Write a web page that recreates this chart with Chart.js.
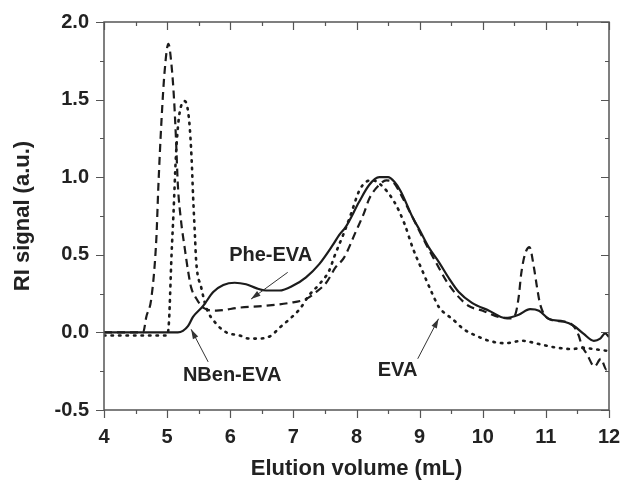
<!DOCTYPE html>
<html>
<head>
<meta charset="utf-8">
<script src="https://cdn.jsdelivr.net/npm/chart.js@4.4.1/dist/chart.umd.min.js"></script>
<style>
  html, body { margin: 0; padding: 0; background: #fff; }
  #wrap { width: 622px; height: 480px; }
</style>
</head>
<body>
<div id="wrap"><canvas id="c"></canvas></div>
<script>
// RI traces (elution volume in mL, signal in a.u.)
const nbenX = [4.0, 5.1, 5.17, 5.25, 5.33, 5.41, 5.57, 5.73, 5.89, 6.07, 6.25, 6.41, 6.57, 6.78, 6.99, 7.2, 7.41, 7.62, 7.73, 7.83, 8.04, 8.2, 8.36, 8.5, 8.6, 8.7, 8.89, 9.0, 9.15, 9.31, 9.47, 9.62, 9.83, 10.1, 10.36, 10.57, 10.75, 10.89, 11.05, 11.28, 11.44, 11.6, 11.76, 11.86, 11.94, 12.0];
const nbenY = [0, 0, 0, 0.01, 0.04, 0.10, 0.17, 0.26, 0.305, 0.32, 0.31, 0.285, 0.27, 0.27, 0.30, 0.355, 0.44, 0.56, 0.63, 0.68, 0.84, 0.95, 1.0, 1.0, 0.97, 0.91, 0.74, 0.66, 0.545, 0.45, 0.345, 0.26, 0.19, 0.14, 0.093, 0.114, 0.15, 0.14, 0.086, 0.07, 0.043, -0.01, -0.054, -0.04, -0.006, -0.03];

const pheX = [4.0, 4.62, 4.67, 4.75, 4.83, 4.86, 4.91, 4.96, 5.02, 5.07, 5.11, 5.14, 5.17, 5.22, 5.28, 5.33, 5.38, 5.46, 5.57, 5.78, 6.15, 6.52, 6.94, 7.2, 7.36, 7.52, 7.67, 7.8, 7.99, 8.12, 8.2, 8.36, 8.47, 8.6, 8.7, 8.89, 9.1, 9.3, 9.41, 9.57, 9.78, 10.0, 10.25, 10.45, 10.52, 10.57, 10.61, 10.67, 10.74, 10.81, 10.86, 10.91, 11.05, 11.28, 11.44, 11.52, 11.57, 11.65, 11.77, 11.87, 11.96, 12.0];
const pheY = [0, 0, 0.10, 0.22, 0.61, 0.93, 1.36, 1.68, 1.86, 1.72, 1.5, 1.25, 0.95, 0.72, 0.54, 0.40, 0.29, 0.22, 0.16, 0.14, 0.16, 0.17, 0.19, 0.215, 0.26, 0.32, 0.42, 0.48, 0.65, 0.77, 0.86, 0.95, 0.98, 0.96, 0.89, 0.74, 0.57, 0.42, 0.34, 0.25, 0.17, 0.14, 0.10, 0.09, 0.12, 0.23, 0.38, 0.505, 0.55, 0.42, 0.29, 0.18, 0.086, 0.07, 0.04, -0.02, -0.086, -0.14, -0.22, -0.17, -0.24, -0.24];

const evaX = [4.0, 5.0, 5.03, 5.07, 5.10, 5.14, 5.18, 5.23, 5.28, 5.35, 5.39, 5.41, 5.44, 5.46, 5.54, 5.62, 5.78, 5.94, 6.15, 6.3, 6.46, 6.65, 6.78, 6.94, 7.1, 7.25, 7.41, 7.57, 7.65, 7.8, 7.91, 8.04, 8.15, 8.25, 8.36, 8.6, 8.76, 8.89, 9.04, 9.2, 9.31, 9.41, 9.52, 9.7, 9.86, 10.1, 10.36, 10.62, 10.89, 11.15, 11.41, 11.6, 11.8, 12.0];
const evaY = [-0.02, -0.02, 0.075, 0.50, 0.76, 1.14, 1.36, 1.47, 1.49, 1.36, 1.10, 0.89, 0.63, 0.46, 0.29, 0.16, 0.055, 0.0, -0.02, -0.04, -0.04, -0.02, 0.03, 0.086, 0.15, 0.24, 0.31, 0.40, 0.49, 0.64, 0.76, 0.91, 0.97, 0.98, 0.96, 0.84, 0.70, 0.545, 0.40, 0.25, 0.16, 0.12, 0.086, 0.02, -0.015, -0.054, -0.07, -0.054, -0.075, -0.097, -0.107, -0.10, -0.11, -0.12];

const xTicks = [4, 5, 6, 7, 8, 9, 10, 11, 12];
const yTicks = [-0.5, 0.0, 0.5, 1.0, 1.5, 2.0];

// text labels with arrows, in data units
const noteText = ['Phe-EVA', 'NBen-EVA', 'EVA'];
const noteX = [6.64, 6.03, 8.65];
const noteY = [0.495, -0.28, -0.245];
const arrowFromX = [6.91, 5.65, 8.97];
const arrowFromY = [0.387, -0.19, -0.17];
const arrowToX = [6.33, 5.38, 9.30];
const arrowToY = [0.215, 0.02, 0.088];

const INK = '#1c1c1c';
const AXIS = '#555';
const FONT = '"Liberation Sans", Arial, sans-serif';

const pts = (xs, ys) => xs.map((x, i) => ({ x, y: ys[i] }));

// frame + minor ticks: out on bottom/left, in on top/right
const frame = {
  id: 'frame',
  afterDraw(chart) {
    const { ctx, chartArea: a, scales: { x, y } } = chart;
    ctx.save();
    ctx.strokeStyle = AXIS;
    ctx.lineWidth = 1.5;
    ctx.strokeRect(a.left, a.top, a.right - a.left, a.bottom - a.top);
    ctx.lineWidth = 1.2;
    ctx.beginPath();
    for (let i = 0; i < xTicks.length; i++) {
      const vals = [[xTicks[i], 8]];
      if (i < xTicks.length - 1) vals.push([(xTicks[i] + xTicks[i + 1]) / 2, 4]);
      for (const [v, len] of vals) {
        const px = Math.round(x.getPixelForValue(v)) + 0.5;
        ctx.moveTo(px, a.bottom); ctx.lineTo(px, a.bottom + len);
        ctx.moveTo(px, a.top); ctx.lineTo(px, a.top + len);
      }
    }
    for (let i = 0; i < yTicks.length; i++) {
      const vals = [[yTicks[i], 8]];
      if (i < yTicks.length - 1) vals.push([(yTicks[i] + yTicks[i + 1]) / 2, 4]);
      for (const [v, len] of vals) {
        const py = Math.round(y.getPixelForValue(v)) + 0.5;
        ctx.moveTo(a.left, py); ctx.lineTo(a.left - len, py);
        ctx.moveTo(a.right, py); ctx.lineTo(a.right - len, py);
      }
    }
    ctx.stroke();

    // annotations
    ctx.strokeStyle = '#333';
    ctx.fillStyle = '#333';
    ctx.lineWidth = 1;
    for (let i = 0; i < noteText.length; i++) {
      const x0 = x.getPixelForValue(arrowFromX[i]), y0 = y.getPixelForValue(arrowFromY[i]);
      const x1 = x.getPixelForValue(arrowToX[i]), y1 = y.getPixelForValue(arrowToY[i]);
      const ang = Math.atan2(y1 - y0, x1 - x0);
      ctx.beginPath();
      ctx.moveTo(x0, y0); ctx.lineTo(x1, y1);
      ctx.stroke();
      ctx.beginPath();
      ctx.moveTo(x1, y1);
      ctx.lineTo(x1 - 10 * Math.cos(ang - 0.3), y1 - 10 * Math.sin(ang - 0.3));
      ctx.lineTo(x1 - 10 * Math.cos(ang + 0.3), y1 - 10 * Math.sin(ang + 0.3));
      ctx.closePath();
      ctx.fill();
    }
    ctx.fillStyle = '#222';
    ctx.font = 'bold 20px ' + FONT;
    ctx.textAlign = 'center';
    ctx.textBaseline = 'middle';
    noteText.forEach((t, i) => {
      ctx.fillText(t, x.getPixelForValue(noteX[i]), y.getPixelForValue(noteY[i]));
    });
    ctx.restore();
  }
};

const line = (label, xs, ys, dash, width) => ({
  label,
  data: pts(xs, ys),
  borderColor: INK,
  borderWidth: width,
  borderDash: dash,
  borderCapStyle: dash.length && dash[0] < 3 ? 'round' : 'butt',
  pointRadius: 0,
  fill: false,
  cubicInterpolationMode: 'monotone',
});

new Chart(document.getElementById('c'), {
  type: 'line',
  data: {
    datasets: [
      line('NBen-EVA', nbenX, nbenY, [], 2.2),
      line('Phe-EVA', pheX, pheY, [8, 5], 2.2),
      line('EVA', evaX, evaY, [1.5, 6], 2.6),
    ],
  },
  plugins: [frame],
  options: {
    responsive: true,
    maintainAspectRatio: false,
    animation: false,
    layout: { padding: { top: 22, right: 13, left: 0, bottom: 0 } },
    plugins: { legend: { display: false }, tooltip: { enabled: false } },
    scales: {
      x: {
        type: 'linear',
        min: 4, max: 12,
        afterBuildTicks: s => { s.ticks = xTicks.map(v => ({ value: v })); },
        afterFit: s => { s.height = 70; s.paddingLeft = 0; s.paddingRight = 0; },
        grid: { display: false, drawTicks: false },
        border: { display: false },
        ticks: { color: '#222', padding: 15, font: { family: FONT, size: 20, weight: 'bold' } },
        title: {
          display: true, text: 'Elution volume (mL)', color: '#222',
          padding: { top: 0, bottom: 0 },
          font: { family: FONT, size: 22, weight: 'bold', lineHeight: 1.0 },
        },
      },
      y: {
        min: -0.5, max: 2.0,
        afterBuildTicks: s => { s.ticks = yTicks.map(v => ({ value: v })); },
        afterFit: s => { s.width = 104; s.paddingTop = 0; s.paddingBottom = 0; },
        grid: { display: false, drawTicks: false },
        border: { display: false },
        ticks: {
          color: '#222', padding: 15,
          font: { family: FONT, size: 20, weight: 'bold' },
          callback: v => v.toFixed(1),
        },
        title: {
          display: true, text: 'RI signal (a.u.)', color: '#222',
          padding: { top: 10, bottom: 0 },
          font: { family: FONT, size: 22, weight: 'bold' },
        },
      },
    },
  },
});
</script>
</body>
</html>
